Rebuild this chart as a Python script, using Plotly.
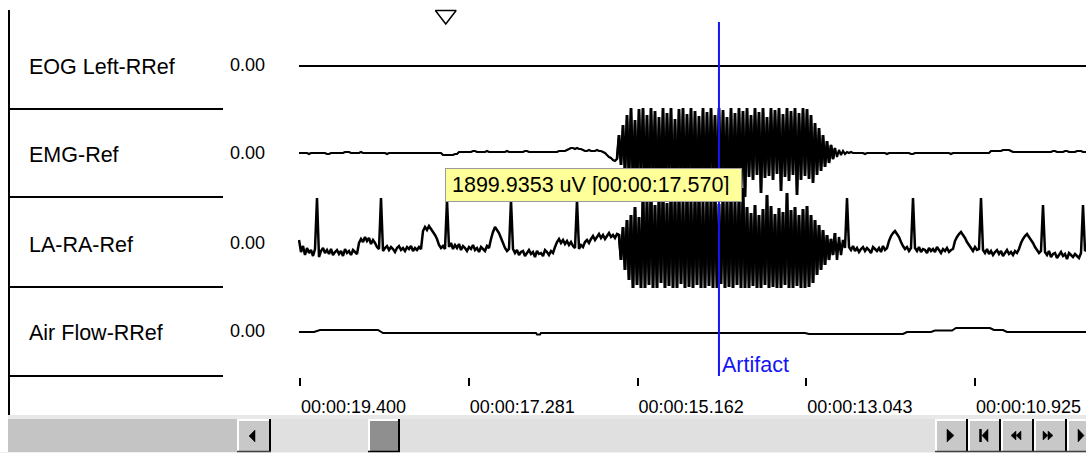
import plotly.graph_objects as go

# ------------------------------------------------------------------ data
channel_names = ["EOG Left-RRef", "EMG-Ref", "LA-RA-Ref", "Air Flow-RRef"]
channel_zero_labels = ["0.00", "0.00", "0.00", "0.00"]

tick_times = [19.400, 17.281, 15.162, 13.043, 10.925]
tick_labels = ["00:00:19.400", "00:00:17.281", "00:00:15.162",
               "00:00:13.043", "00:00:10.925"]

# uniform sampling of EMG / LA-RA traces (time runs right-to-left on screen)
sample_start = 19.4126   # s
sample_interval = 0.02511  # s

eog_times = [19.413, 9.532]
eog_values = [0, 0]

emg_before = [
    0, 0, 0, 0, 0, -1, 0, 0, 0, 0, 0, 0, 0, 0, -1, -1, 0, 0, 0, 0,
    0, 0, 0, 1, 1, 1, 0, 0, 0, 0, 0, 1, 0, 0, 0, 0, 0, 0, 0, 0,
    0, 0, 0, 0, -1, 0, 0, 0, 0, 0, 0, 0, 0, 0, 0, 0, 0, 0, 0, 0,
    0, 0, 0, 0, 0, 0, 0, 0, 0, 0, 0, 0,
    -2, -2, -2, -2, -2, -2, -1, -1,
    1, 1, 1, 1, 1, 1, 1, 2, 2, 1, 1, 1, 1, 1, 2, 1, 1, 1, 1, 1,
    1, 1, 1, 1, 2, 1, 1, 1, 1, 1, 1, 1, 1, 2, 2, 1, 1, 1, 1, 1,
    1, 1, 1, 1, 1, 1, 1, 1, 1, 1, 2, 2, 2, 2,
    3, 4, 5, 5, 4, 5, 4, 4, 3,
    2, 2, 3, 2, 2, 2, 3, 2, 2, 1,
    0, -2, -4, -5, -7, -8, -6]
emg_burst = [
    18, -12, 28, -20, 38, -26, 45, -30, 33, -35, 44, -28,
    45, -40, 38, -44, 45, -32, 42, -45, 36, -38, 45, -42, 40, -30,
    45, -45, 34, -40, 44, -36, 45, -44, 39, -33, 45, -41, 42, -45,
    37, -35, 45, -43, 41, -38, 45, -30, 38, -44, 45, -40, 43, -34,
    36, -45, 45, -39, 40, -42, 45, -36, 42, -44,
    45, -24, 38, -27, 45, -22, 41, -40, 45, -25, 36, -23, 45, -27,
    43, -21, 45, -38, 39, -24, 45, -28, 42, -22, 45, -42, 40, -27,
    45, -23, 44, -26,
    38, -30, 30, -22, 25, -18, 18, -14, 12, -10, 8, -6]
emg_after = [
    5, -4, 3, -2, 2, -1, 1, 0, 1,
    0, 0, 0, 0, 0, 0, -1, 0, 0, 0, 0, 0, 0, 0, 0, 0, 0, -1, 0, 0,
    0, 0, 0, 0, 0, 0, 0, 0, 0, -1, -1, 0, 0, 0, 0, 0, 0, 0, 0, 0,
    0, 0, 0, 0, 0, 0, 0, 0, 0, -1, 0, 0, 0, 0, 0, 0, 0, 0, 0, 0,
    0, 0, 0, 0, 0, 0, 0, 0, 0,
    2, 2, 2, 2, 2, 2,
    3, 3, 3, 3, 2,
    1, 1, 1, 1, 1, 1, 1, 1, 1, 1, 1, 1, 1, 1, 1, 1, 1, 1, 1, 1,
    2, 2, 1, 1, 1, 1, 2, 2, 1, 1, 1, 1, 2, 2, 2, 1, 1, 1]

ecg_before = [
    5, -7, -1, -10, -3, -8, -5, -11, -4,
    47,
    -12, -6, -3, -8, -5, -9, -4, -10, -7, -5, -9, -6, -11, -4, -8, -6, -10, -5, -7, -9,
    2, 6, 3, 8, 4, 7, 1, 5, 2, -2, -4,
    47,
    -6, -3, -1, -5, -2, -4, -7, -3, -1, -5, -3, -6, -2, -4, -1, -6, -3, -5, -2, -4,
    14, 18, 15, 19, 16, 13, 10, 6,
    0, -3, -1, -4,
    45,
    -2, 2, -4, 0, -3, 1, -5, -1, -3, -6, -2, -4, 0, -5, -3, -7, -2, -4, -6, -1, -3,
    6, 13, 18, 15, 12, 7, 2,
    -3, -6, -4,
    45,
    -4, -8, -5, -10, -7, -6, -11, -8, -5, -9, -7, -12, -6, -9, -8, -11, -5, -7, -10, -6, -8,
    -2, 3, 6, 2, 5, 1, 4, 0, 3, -1, -3,
    45,
    -4, 0, -2, 3, 5, 2, 6, 9, 5, 8, 11, 7, 10, 6, 9, 12, 8, 10, 7, 11]
ecg_burst = [
    10, -15, 18, -25, 25, -35, 30, -43, 38, -40, 28, -43,
    52, -43, 45, -40, 58, -43, 40, -43, 50, -38, 55, -43, 42, -41,
    57, -43, 48, -43, 53, -39, 44, -43, 58, -42, 46, -43, 51, -40,
    56, -43, 43, -43, 54, -41, 49, -43, 58, -43, 41, -39, 52, -43,
    47, -42, 55, -43, 44, -40, 50, -43, 57, -43,
    38, -43, 32, -41, 40, -43, 30, -43, 36, -40, 50, -43, 39, -42,
    31, -43, 37, -43, 33, -40, 52, -43, 35, -43, 38, -41, 30, -43,
    36, -43, 39, -42,
    30, -38, 25, -30, 20, -25, 15, -20, 10, -15, 6, -10]
ecg_after = [
    12, -15, 8, -10, 5, -3,
    47,
    -2, -5, -1, -6, -3, -7, -4, -2, -6, -3, -5, -8, -2, -4, -6, -3, -7, -1, -5, -3,
    4, 9, 12, 14, 11, 8, 3, -1,
    -4, -2, -6, -3,
    47,
    -3, -6, -2, -7, -4, -5, -8, -3, -6, -4, -7, -2, -5, -8, -4, -6, -3, -7, -5, -4,
    4, 8, 11, 13, 10, 7, 3, 0,
    -3, -6, -2, -5, -4,
    47,
    -5, -8, -4, -9, -6, -10, -7, -5, -9, -6, -11, -8, -5, -9, -7, -10, -6, -8, -4,
    2, 6, 9, 11, 8, 5, 2, -2,
    -5, -8, -6,
    40,
    -7, -10, -6, -12, -9, -8, -13, -10, -7, -11, -9, -14, -8, -10, -12, -9, -11, -13, -8,
    40,
    -6, -4]

emg_values = emg_before + emg_burst + emg_after
ecg_values = ecg_before + ecg_burst + ecg_after

airflow_times = [19.413, 19.224, 19.149, 18.421, 18.358, 16.450, 16.437, 16.424,
                 16.387, 16.374, 13.060, 13.010, 11.829, 11.779, 11.478, 11.428,
                 11.214, 11.164, 10.737, 10.687, 10.574, 10.524, 9.532]
airflow_values = [0, 0, 2, 2, -1, -1, -1, -2.5, -2.5, -1, -1, -2, -2, 0, 0, 1.5,
                  1.5, 4, 4, 2, 2, 0, 0]

marker_time = 17.570
marker_readout = "1899.9353 uV [00:00:17.570]"
cursor_time = 14.14
cursor_label = "Artifact"

# ------------------------------------------------------------------ layout constants
W, H = 1086, 453
FONT = "Liberation Sans, Arial, sans-serif"
BLUE = "#1414F5"
baselines = [66, 153, 245, 332]       # screen row of each channel's zero
label_rows = [67, 155, 245, 333]
zero_rows = [65, 153, 243, 331]
view_start, view_end = 19.4251, 9.5318


def px(x):
    return x / W


sample_times = [sample_start - k * sample_interval for k in range(len(emg_values))]
b0 = len(emg_before) - 1
b1 = len(emg_before) + len(emg_burst) + 1

fig = go.Figure()


def add_channel(times, values, base, width):
    fig.add_trace(go.Scatter(
        x=times, y=[base - v for v in values], mode="lines",
        line=dict(color="black", width=width, simplify=False), hoverinfo="skip"))


add_channel(eog_times, eog_values, baselines[0], 2)
add_channel(sample_times, emg_values, baselines[1], 2.2)
add_channel(sample_times, ecg_values, baselines[2], 2.5)
# denser stroke in the artifact burst
add_channel(sample_times[b0:b1], emg_values[b0:b1], baselines[1], 2.7)
add_channel(sample_times[b0:b1], ecg_values[b0:b1], baselines[2], 2.7)
add_channel(airflow_times, airflow_values, baselines[3], 2)

# event marker (open triangle on top)
fig.add_trace(go.Scatter(
    x=[marker_time], y=[15], mode="markers",
    marker=dict(symbol="triangle-down", size=18, color="white",
                line=dict(color="black", width=1.5)),
    hoverinfo="skip", cliponaxis=False))

shapes = []
# left label panel
shapes.append(dict(type="line", xref="paper", yref="y", x0=px(9), x1=px(9),
                   y0=10, y1=416, line=dict(color="black", width=2)))
for ysep in [109, 197, 287, 376]:
    shapes.append(dict(type="line", xref="paper", yref="y", x0=px(9), x1=px(223),
                       y0=ysep, y1=ysep, line=dict(color="black", width=2)))

# cursor line
shapes.append(dict(type="line", xref="x", yref="y", x0=cursor_time, x1=cursor_time,
                   y0=22, y1=376, line=dict(color=BLUE, width=2), layer="above"))


def rect(x0, x1, y0, y1, fill, line=None):
    shapes.append(dict(type="rect", xref="paper", yref="y", x0=px(x0), x1=px(x1),
                       y0=y0, y1=y1, fillcolor=fill,
                       line=dict(width=0) if line is None else line, layer="above"))


def hline(x0, x1, y, color, w=1):
    shapes.append(dict(type="line", xref="paper", yref="y", x0=px(x0), x1=px(x1),
                       y0=y, y1=y, line=dict(color=color, width=w), layer="above"))


def vline(x, y0, y1, color, w=1):
    shapes.append(dict(type="line", xref="paper", yref="y", x0=px(x), x1=px(x),
                       y0=y0, y1=y1, line=dict(color=color, width=w), layer="above"))


def tri(points):
    path = "M " + " L ".join(f"{px(a)},{b}" for a, b in points) + " Z"
    shapes.append(dict(type="path", xref="paper", yref="y", path=path,
                       fillcolor="black", line=dict(color="black", width=0.5),
                       layer="above"))


# scrollbar strip
rect(8, W, 415, 419, "#e8e8e8")
rect(8, 237, 419, 452, "#c4c4c4")
rect(271, 935, 419, 452, "#e0e0e0")
rect(0, W, 452, 453, "#f0f0f0")


def button(x0, x1):
    rect(x0, x1, 419, 452, "#c8c8c8")
    hline(x0, x1, 420, "white", 2)
    vline(x0 + 1, 419, 451, "white", 2)
    vline(x1 - 1, 419, 452, "black", 2)
    hline(x0, x1, 451.5, "#404040", 1.5)


button(237, 271)
tri([(249, 436), (255, 430), (255, 442)])

# thumb
rect(368, 400, 419, 452, "#8f8f8f")
hline(368, 400, 420, "white", 2)
vline(369, 419, 451, "white", 2)
vline(399, 419, 452, "black", 2)
hline(368, 400, 451.5, "black", 1.5)

# navigation buttons
for x0, x1 in [(935, 968), (968, 1001), (1001, 1034), (1034, 1067), (1067, 1100)]:
    button(x0, x1)
tri([(947, 429), (954, 435.5), (947, 442)])
vline(980.5, 429, 442, "black", 2.5)
tri([(988, 429), (982, 435.5), (988, 442)])
tri([(1011, 435.5), (1016, 431), (1016, 440)])
tri([(1016, 435.5), (1021, 431), (1021, 440)])
tri([(1043, 431), (1048, 435.5), (1043, 440)])
tri([(1048, 431), (1053, 435.5), (1048, 440)])
tri([(1078, 429), (1084, 435.5), (1078, 442)])

annotations = []
for name, zl, yl, yz in zip(channel_names, channel_zero_labels, label_rows, zero_rows):
    annotations.append(dict(text=name, xref="paper", yref="y", x=px(27), y=yl,
                            xanchor="left", yanchor="middle", showarrow=False,
                            font=dict(family=FONT, size=21.5, color="black")))
    annotations.append(dict(text=zl, xref="paper", yref="y", x=px(228), y=yz,
                            xanchor="left", yanchor="middle", showarrow=False,
                            font=dict(family=FONT, size=18, color="black")))

annotations.append(dict(text=marker_readout, xref="paper", yref="y", x=px(445), y=168,
                        xanchor="left", yanchor="top", showarrow=False, align="left",
                        width=283, height=20, borderpad=6, borderwidth=1,
                        bordercolor="#9a9a9a", bgcolor="#FFFF99",
                        font=dict(family=FONT, size=21.5, color="black")))
annotations.append(dict(text=cursor_label, xref="x", yref="y", x=cursor_time, y=365,
                        xanchor="left", yanchor="middle", showarrow=False, xshift=1,
                        font=dict(family=FONT, size=21.5, color=BLUE)))

fig.update_layout(
    width=W, height=H, margin=dict(l=0, r=0, t=0, b=0),
    paper_bgcolor="white", plot_bgcolor="white", showlegend=False,
    shapes=shapes, annotations=annotations,
    xaxis=dict(domain=[px(298), 1], range=[view_start, view_end],
               anchor="free", position=1 - 377 / H,
               showgrid=False, zeroline=False, showline=False,
               tickmode="array", tickvals=tick_times, ticktext=tick_labels,
               ticks="outside", ticklen=8, tickwidth=2, tickcolor="black",
               ticklabelposition="outside right", ticklabelstandoff=13,
               tickfont=dict(family=FONT, size=18, color="black")),
    yaxis=dict(domain=[0, 1], range=[H, 0], visible=False,
               showgrid=False, zeroline=False),
)

fig.write_html(
    "out.html",
    config={"displayModeBar": False, "staticPlot": True},
    post_script="document.body.style.margin='0';document.body.style.padding='0';"
                "document.documentElement.style.overflow='hidden';",
)
